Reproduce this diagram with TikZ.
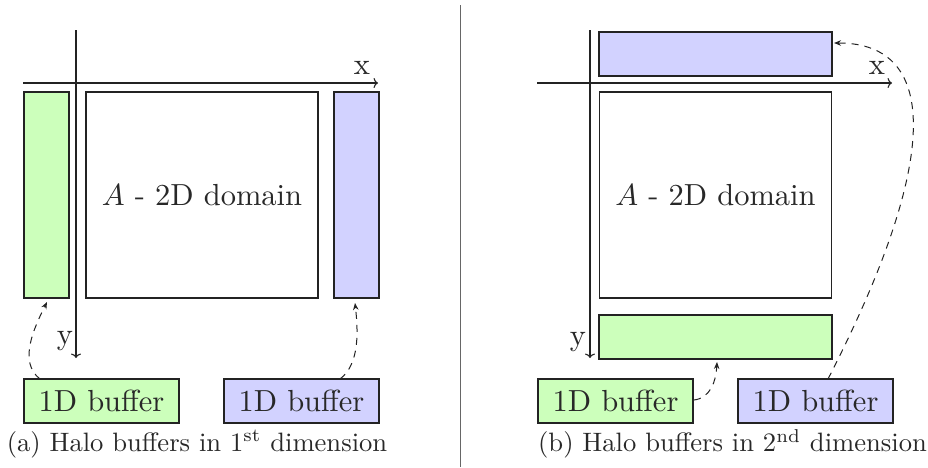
\documentclass[tikz,border=0pt]{standalone}
\usepackage{graphicx}
\usetikzlibrary{arrows.meta}
\definecolor{hgreen}{RGB}{204,255,187}
\definecolor{hblue}{RGB}{210,210,255}
\definecolor{txt}{RGB}{40,40,40}
\definecolor{edge}{RGB}{35,35,35}
\newcommand{\bigtxt}[1]{\scalebox{3.05}{\fontsize{10}{12}\selectfont #1}}
\newcommand{\captxt}[1]{\scalebox{2.66}{\fontsize{10}{12}\selectfont #1}}
\begin{document}
\begin{tikzpicture}[x=1pt,y=-1pt,
  box/.style={draw=edge, line width=1.8pt, inner sep=0pt, text=txt},
  vbar/.style={box, minimum width=45pt, minimum height=206pt},
  hbar/.style={box, minimum width=233pt, minimum height=44pt},
  dom/.style={box, minimum width=232pt, minimum height=206pt},
  buf/.style={box, minimum width=155pt, minimum height=44pt},
  axis/.style={draw=edge, line width=1.1pt, -{To[length=4.5pt,width=10pt]}},
  lab/.style={text=txt, inner sep=0pt},
  captext/.style={text=txt, inner sep=0pt},
  link/.style={draw=edge, line width=1pt, dash pattern=on 7pt off 6pt,
    -{Stealth[length=7pt,width=5.5pt]}}
]
\useasboundingbox (0,0) rectangle (928,467);

% separator
\coordinate (s0) at (460,5);
\coordinate (s1) at (460,467);
\draw[draw=black!60, line width=1pt] (s0) -- (s1);

% ---------- left panel ----------
\coordinate (xa0) at (23,83);
\coordinate (xa1) at (378,83);
\coordinate (ya0) at (76,30);
\coordinate (ya1) at (76,358);
\draw[axis] (xa0) -- (xa1);
\draw[axis] (ya0) -- (ya1);
\node[lab] (xl) at (362,68) {\bigtxt{x}};
\node[lab] (yl) at (65,341) {\bigtxt{y}};

\node[vbar, fill=hgreen] (gl) at (46.5,195) {};
\node[dom] (dl) at (202,195) {\bigtxt{$A$ - 2D domain}};
\node[vbar, fill=hblue] (bl) at (356.5,195) {};
\node[buf, fill=hgreen] (gbl) at (101.5,401) {\bigtxt{1D buffer}};
\node[buf, fill=hblue] (bbl) at (301.5,401) {\bigtxt{1D buffer}};

\coordinate (gls) at (40,379);
\coordinate (gle) at (47,302);
\coordinate (bls) at (340,379);
\coordinate (ble) at (355,303);
\draw[link] (gls) .. controls (18,362) and (34,328) .. (gle);
\draw[link] (bls) .. controls (360,364) and (358,330) .. (ble);

\node[captext] (capa) at (197,444) {\captxt{(a) Halo buffers in 1\textsuperscript{st} dimension}};

% ---------- right panel ----------
\coordinate (xb0) at (537,83);
\coordinate (xb1) at (892,83);
\coordinate (yb0) at (590,30);
\coordinate (yb1) at (590,358);
\draw[axis] (xb0) -- (xb1);
\draw[axis] (yb0) -- (yb1);
\node[lab] (xr) at (877,68) {\bigtxt{x}};
\node[lab] (yr) at (578,342) {\bigtxt{y}};

\node[hbar, fill=hblue] (br) at (715.5,54) {};
\node[dom] (dr) at (715.5,195) {\bigtxt{$A$ - 2D domain}};
\node[hbar, fill=hgreen] (gr) at (715.5,337) {};
\node[buf, fill=hgreen] (gbr) at (615.5,401) {\bigtxt{1D buffer}};
\node[buf, fill=hblue] (bbr) at (815.5,401) {\bigtxt{1D buffer}};

\coordinate (grs) at (694,400);
\coordinate (gre) at (717,362);
\coordinate (brs) at (828,379);
\coordinate (bre) at (834,43);
\draw[link] (grs) .. controls (710,398) and (716,382) .. (gre);
\draw[link] (brs) .. controls (938,165) and (942,43) .. (bre);

\node[captext] (capb) at (732.5,444) {\captxt{(b) Halo buffers in 2\textsuperscript{nd} dimension}};
\end{tikzpicture}
\end{document}
